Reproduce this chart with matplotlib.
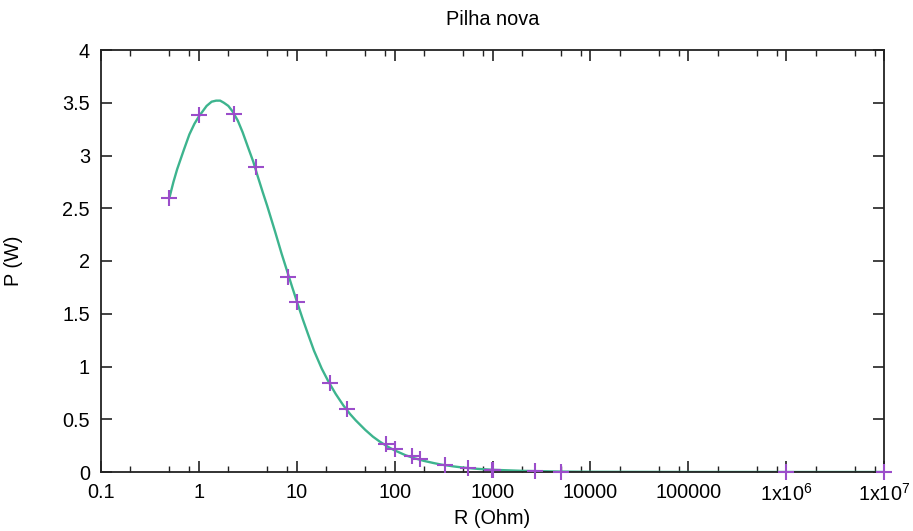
import matplotlib
matplotlib.use("Agg")
import matplotlib.pyplot as plt
import matplotlib.ticker as mticker

# measured points
r_meas = [0.5, 1.0, 2.3, 3.8, 8.2, 10, 22, 33, 82, 100, 150, 180, 330, 560, 980, 1000, 2700, 5000, 1e6, 1e7]
p_meas = [2.6, 3.38, 3.39, 2.89, 1.85, 1.61, 0.84, 0.60, 0.27, 0.22, 0.15, 0.12, 0.065, 0.04, 0.02, 0.02, 0.008, 0.004, 0.0, 0.0]

# fitted curve
r_fit = [0.5, 0.55, 0.6, 0.7, 0.8, 0.9, 1.0, 1.2, 1.35, 1.5, 1.65, 1.8, 2.0, 2.2, 2.5, 2.8, 3.2, 3.6,
         4, 4.5, 5, 6, 7, 8, 9, 10, 11.5, 13, 15, 18, 21, 25, 30, 35, 40, 50, 60, 70, 85, 100,
         130, 160, 200, 250, 300, 400, 500, 700, 1000, 2000, 5000, 1e4, 1e5, 1e6, 1e7]
p_fit = [2.6, 2.75, 2.87, 3.05, 3.2, 3.3, 3.37, 3.47, 3.51, 3.52, 3.52, 3.5, 3.47, 3.42, 3.33, 3.22, 3.07, 2.94,
         2.8, 2.65, 2.52, 2.28, 2.07, 1.9, 1.75, 1.62, 1.45, 1.31, 1.15, 0.98, 0.86, 0.74, 0.63, 0.55, 0.49, 0.4, 0.335, 0.29, 0.24, 0.205,
         0.158, 0.13, 0.105, 0.085, 0.07, 0.053, 0.042, 0.03, 0.021, 0.011, 0.004, 0.002, 0.0002, 0.00002, 0.0]

x_ticks = [0.1, 1, 10, 100, 1000, 1e4, 1e5, 1e6, 1e7]
x_labels = ["0.1", "1", "10", "100", "1000", "10000", "100000", r"1x10$^{6}$", r"1x10$^{7}$"]
y_ticks = [0, 0.5, 1, 1.5, 2, 2.5, 3, 3.5, 4]
y_labels = ["0", "0.5", "1", "1.5", "2", "2.5", "3", "3.5", "4"]

plt.rcParams["font.family"] = ["Liberation Sans", "DejaVu Sans"]
plt.rcParams["mathtext.fontset"] = "custom"
plt.rcParams["mathtext.rm"] = "Liberation Sans"

fig = plt.figure(figsize=(9.13, 5.31), dpi=100)
ax = fig.add_axes([101 / 913, 1 - 472 / 531, (884 - 101) / 913, (472 - 50) / 531])

ax.plot(r_fit, p_fit, color="#3db48e", lw=1.7, zorder=2)
ax.plot(r_meas, p_meas, linestyle="none", marker="+", markersize=11, mew=1.5,
        color="#9b4dca", zorder=3, clip_on=False)

ax.set_xscale("log")
ax.set_xlim(0.1, 1e7)
ax.set_ylim(0, 4)
ax.xaxis.set_major_locator(mticker.FixedLocator(x_ticks))
ax.xaxis.set_major_formatter(mticker.FixedFormatter(x_labels))
ax.xaxis.set_minor_locator(mticker.LogLocator(base=10, subs=[2, 5, 8], numticks=50))
ax.xaxis.set_minor_formatter(mticker.NullFormatter())
ax.set_yticks(y_ticks)
ax.set_yticklabels(y_labels)

ax.tick_params(which="both", direction="in", top=True, right=True, labelsize=14.3, color="#222222")
ax.tick_params(which="major", length=8, width=1.2, pad=8)
ax.tick_params(which="minor", length=4, width=1.0)
for s in ax.spines.values():
    s.set_linewidth(1.3)
    s.set_color("#222222")

ax.set_xlabel("R (Ohm)", fontsize=14.3)
ax.xaxis.set_label_coords(0.5, -0.088)
ax.set_ylabel("P (W)", fontsize=14.3)
ax.yaxis.set_label_coords(-0.1, 0.5)
ax.set_title("Pilha nova", fontsize=14.3, pad=18)

fig.savefig("out.png", dpi=100)
